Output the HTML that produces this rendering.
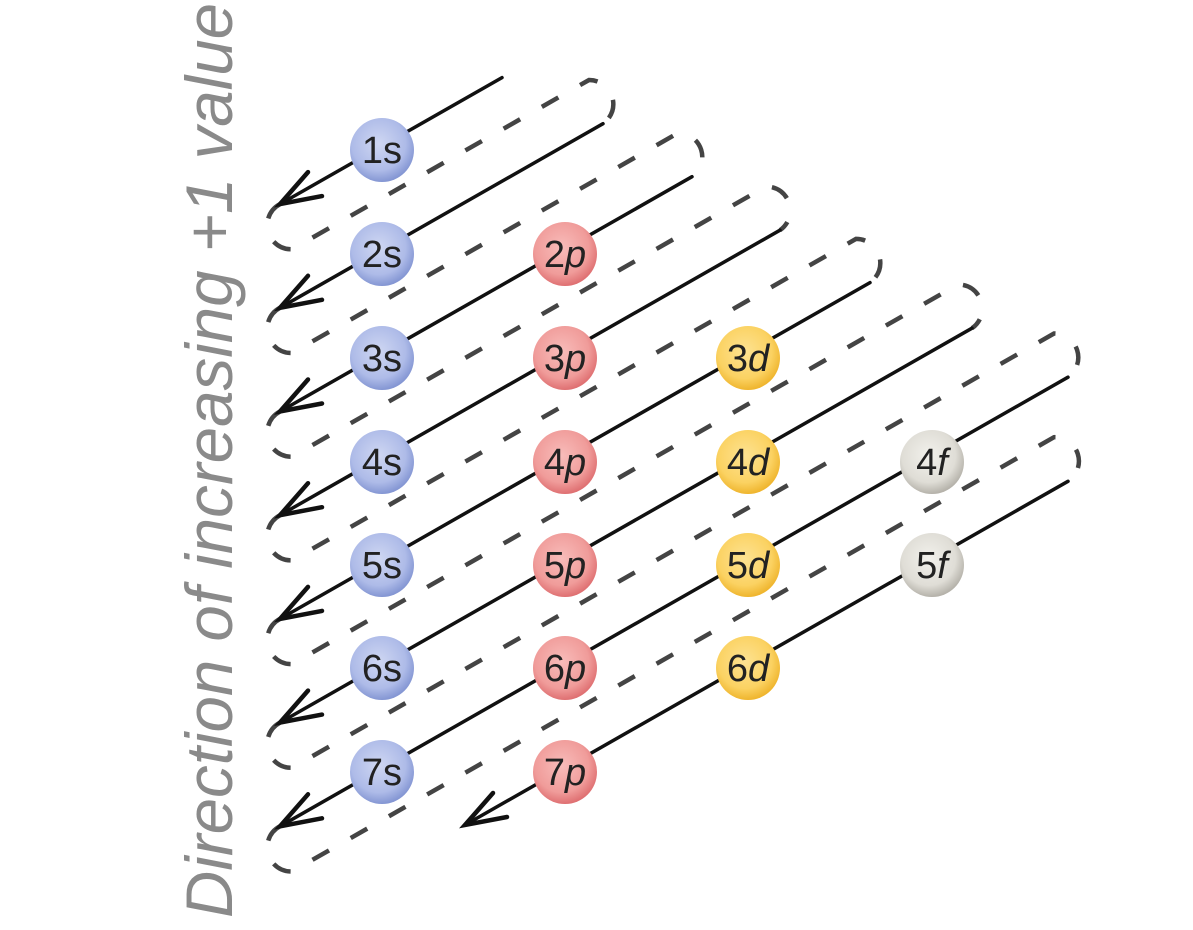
<!DOCTYPE html>
<html><head><meta charset="utf-8"><style>
html,body{margin:0;padding:0;background:#fff;}
svg{display:block;}
.lab{font-family:"Liberation Sans",sans-serif;font-size:38px;fill:#222;text-anchor:middle;}
</style></head><body>
<svg width="1193" height="930" viewBox="0 0 1193 930" xmlns="http://www.w3.org/2000/svg">
<defs>
<radialGradient id="gb" cx="45%" cy="40%" r="60%"><stop offset="0" stop-color="#cfd7f2"/><stop offset="0.7" stop-color="#aebbe8"/><stop offset="1" stop-color="#8496d3"/></radialGradient>
<radialGradient id="gr" cx="45%" cy="40%" r="60%"><stop offset="0" stop-color="#f8bcba"/><stop offset="0.7" stop-color="#f09c9a"/><stop offset="1" stop-color="#df7072"/></radialGradient>
<radialGradient id="gy" cx="45%" cy="40%" r="60%"><stop offset="0" stop-color="#fde292"/><stop offset="0.7" stop-color="#fbd262"/><stop offset="1" stop-color="#efb52e"/></radialGradient>
<radialGradient id="gg" cx="45%" cy="40%" r="60%"><stop offset="0" stop-color="#f2f1ec"/><stop offset="0.7" stop-color="#dfddd6"/><stop offset="1" stop-color="#b5b2aa"/></radialGradient>
</defs>

<text transform="translate(232,918) rotate(-90)" font-family="Liberation Sans, sans-serif" font-style="italic" font-size="66" fill="#8a8a8a" textLength="915" lengthAdjust="spacingAndGlyphs">Direction of increasing +1 value</text>

<g fill="none" stroke="#444" stroke-width="4.5" stroke-dasharray="19 25">
<path d="M280,204.1 A24,24 0 0 0 292,249.3 L589,80 A24,24 0 0 1 603,123.7"/>
<path d="M280,307.8 A24,24 0 0 0 292,353 L678,133 A24,24 0 0 1 692,176.7"/>
<path d="M280,411.5 A24,24 0 0 0 292,456.7 L766,186.5 A24,24 0 0 1 780,230.2"/>
<path d="M280,515.2 A24,24 0 0 0 292,560.4 L856,238.9 A24,24 0 0 1 870,282.6"/>
<path d="M280,618.9 A24,24 0 0 0 292,664.1 L958,284.5 A24,24 0 0 1 972,328.2"/>
<path d="M280,722.6 A24,24 0 0 0 292,767.8 L1054,333.5 A24,24 0 0 1 1068,377.2"/>
<path d="M280,826.3 A24,24 0 0 0 292,871.5 L1054,437.2 A24,24 0 0 1 1068,481.3"/>
</g>

<g fill="none" stroke="#111" stroke-width="3.5" stroke-linecap="round" stroke-linejoin="round">
<path d="M502,77.6 L280,204.1"/><path d="M603,123.7 L280,307.8"/><path d="M692,176.7 L280,411.5"/>
<path d="M780,230.2 L280,515.2"/><path d="M870,282.6 L280,618.9"/><path d="M972,328.2 L280,722.6"/>
<path d="M1068,377.2 L280,826.3"/><path d="M1068,481.3 L465,825"/>
</g>
<g fill="none" stroke="#111" stroke-width="4.5" stroke-linecap="round" stroke-linejoin="miter">
<path d="M322,196.1 L280,204.1 L308,172.1"/>
<path d="M322,299.8 L280,307.8 L308,275.8"/>
<path d="M322,403.5 L280,411.5 L308,379.5"/>
<path d="M322,507.2 L280,515.2 L308,483.2"/>
<path d="M322,610.9 L280,618.9 L308,586.9"/>
<path d="M322,714.6 L280,722.6 L308,690.6"/>
<path d="M322,818.3 L280,826.3 L308,794.3"/>
<path d="M507,817 L465,825 L493,793"/>
</g>

<g>
<circle cx="382" cy="150" r="32" fill="url(#gb)"/>
<circle cx="382" cy="254" r="32" fill="url(#gb)"/>
<circle cx="382" cy="358" r="32" fill="url(#gb)"/>
<circle cx="382" cy="462" r="32" fill="url(#gb)"/>
<circle cx="382" cy="565" r="32" fill="url(#gb)"/>
<circle cx="382" cy="668" r="32" fill="url(#gb)"/>
<circle cx="382" cy="772" r="32" fill="url(#gb)"/>
<circle cx="565" cy="254" r="32" fill="url(#gr)"/>
<circle cx="565" cy="358" r="32" fill="url(#gr)"/>
<circle cx="565" cy="462" r="32" fill="url(#gr)"/>
<circle cx="565" cy="565" r="32" fill="url(#gr)"/>
<circle cx="565" cy="668" r="32" fill="url(#gr)"/>
<circle cx="565" cy="772" r="32" fill="url(#gr)"/>
<circle cx="748" cy="358" r="32" fill="url(#gy)"/>
<circle cx="748" cy="462" r="32" fill="url(#gy)"/>
<circle cx="748" cy="565" r="32" fill="url(#gy)"/>
<circle cx="748" cy="668" r="32" fill="url(#gy)"/>
<circle cx="932" cy="462" r="32" fill="url(#gg)"/>
<circle cx="932" cy="565" r="32" fill="url(#gg)"/>
</g>

<g>
<text class="lab" x="382" y="163">1s</text>
<text class="lab" x="382" y="267">2s</text>
<text class="lab" x="382" y="371">3s</text>
<text class="lab" x="382" y="475">4s</text>
<text class="lab" x="382" y="578">5s</text>
<text class="lab" x="382" y="681">6s</text>
<text class="lab" x="382" y="785">7s</text>
<text class="lab" x="565" y="267">2<tspan font-style="italic">p</tspan></text>
<text class="lab" x="565" y="371">3<tspan font-style="italic">p</tspan></text>
<text class="lab" x="565" y="475">4<tspan font-style="italic">p</tspan></text>
<text class="lab" x="565" y="578">5<tspan font-style="italic">p</tspan></text>
<text class="lab" x="565" y="681">6<tspan font-style="italic">p</tspan></text>
<text class="lab" x="565" y="785">7<tspan font-style="italic">p</tspan></text>
<text class="lab" x="748" y="371">3<tspan font-style="italic">d</tspan></text>
<text class="lab" x="748" y="475">4<tspan font-style="italic">d</tspan></text>
<text class="lab" x="748" y="578">5<tspan font-style="italic">d</tspan></text>
<text class="lab" x="748" y="681">6<tspan font-style="italic">d</tspan></text>
<text class="lab" x="932" y="475">4<tspan font-style="italic">f</tspan></text>
<text class="lab" x="932" y="578">5<tspan font-style="italic">f</tspan></text>
</g>
</svg>
</body></html>
